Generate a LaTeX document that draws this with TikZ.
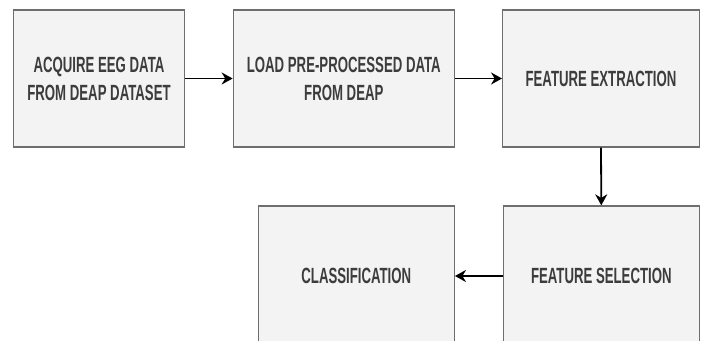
\documentclass[tikz,border=0pt]{standalone}
\usepackage{fontspec}
\setmainfont{Liberation Sans}[FakeStretch=0.6]
\usetikzlibrary{arrows.meta}
\definecolor{boxfill}{HTML}{F3F3F3}
\definecolor{boxline}{HTML}{6E6E6E}
\definecolor{txt}{HTML}{3C3C3C}
\tikzset{
  stepbox/.style={draw=boxline, line width=1.3pt, fill=boxfill, align=center, inner sep=0pt,
    text=txt, font=\bfseries\fontsize{22}{28}\selectfont},
  conn/.style={draw=black, line width=1.8pt, -{Stealth[length=11pt,width=12pt]}}
}
\begin{document}
\begin{tikzpicture}[x=1pt,y=1pt]
\useasboundingbox (0,0) rectangle (703,340);
\fill[white] (0,0) rectangle (703,340);
\clip (0,0) rectangle (703,340);
\node[stepbox, minimum width=171pt, minimum height=137pt] (b1) at (99,261.5) {ACQUIRE EEG DATA\\FROM DEAP DATASET};
\node[stepbox, minimum width=221pt, minimum height=137pt] (b2) at (343.8,261.5) {LOAD PRE-PROCESSED DATA\\FROM DEAP};
\node[stepbox, minimum width=196.6pt, minimum height=137pt] (b3) at (601,261.5) {FEATURE EXTRACTION};
\node[stepbox, minimum width=196pt, minimum height=140pt] (b4) at (601.3,64) {FEATURE SELECTION};
\node[stepbox, minimum width=196pt, minimum height=140pt] (b5) at (356.3,64) {CLASSIFICATION};
\draw[conn] (b1.east) -- (b2.west);
\draw[conn] (b2.east) -- (b3.west);
\draw[conn] (b3.south) -- (b4.north);
\draw[conn] (b4.west) -- (b5.east);
\end{tikzpicture}
\end{document}
